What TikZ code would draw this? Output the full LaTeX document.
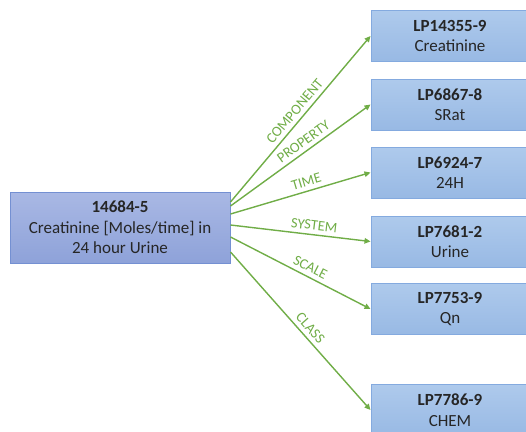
\documentclass[tikz,border=0pt]{standalone}
\usepackage{fontspec}
\setmainfont{Carlito}
\usetikzlibrary{arrows.meta}
\definecolor{srctop}{HTML}{A9B8E4}
\definecolor{srcbot}{HTML}{8EA2D9}
\definecolor{srcedge}{HTML}{7490D2}
\definecolor{parttop}{HTML}{AECAEC}
\definecolor{partbot}{HTML}{98B9E4}
\definecolor{partedge}{HTML}{84AADF}
\definecolor{linkgreen}{HTML}{70AD47}
\definecolor{textgray}{HTML}{262626}
\tikzset{
  srcbox/.style={rectangle,draw=srcedge,line width=1pt,top color=srctop,bottom color=srcbot,
                 minimum width=220pt,minimum height=71pt,align=center,text=textgray,
                 font=\fontsize{17}{20.5}\selectfont},
  partbox/.style={rectangle,draw=partedge,line width=1pt,top color=parttop,bottom color=partbot,
                  minimum width=158pt,minimum height=51pt,align=center,text=textgray,
                  font=\fontsize{17}{20.5}\selectfont},
  % the connectors carry the name of the LOINC axis
  link/.style={draw=linkgreen,line width=1.4pt,-{Triangle[length=6pt,width=5.5pt]}},
  axis/.style={sloped,above=2pt,inner sep=2pt,text=linkgreen,font=\fontsize{14.5}{16}\selectfont},
}

\begin{document}
\begin{tikzpicture}[x=1pt,y=-1pt]
  \useasboundingbox (0,0) rectangle (526,431);
  % the term
  \node[srcbox] (src) at (120,227.5) {\textbf{14684-5}\\Creatinine [Moles/time] in\\24 hour Urine};
  % its parts, top to bottom
  \foreach \i/\y/\code/\name in {1/36/LP14355-9/Creatinine,2/104.5/LP6867-8/SRat,3/172.5/LP6924-7/24H,
                                 4/241.5/LP7681-2/Urine,5/309/LP7753-9/Qn,6/410/LP7786-9/CHEM}
    \node[partbox] (p\i) at (450,\y) {\textbf{\code}\\\name};
  % start points on the right side of the term
  \foreach \i/\dy in {1/25.5,2/21.5,3/13.5,4/2.5,5/-9.5,6/-24.5}
    \coordinate (s\i) at ([yshift=\dy pt]src.east);
  \foreach \i/\lab/\p in {1/COMPONENT/0.51,2/PROPERTY/0.56,3/TIME/0.56,4/SYSTEM/0.59,5/SCALE/0.54,6/CLASS/0.52}
    \draw[link] (s\i) -- node[axis,pos=\p] {\lab} (p\i.west);
\end{tikzpicture}
\end{document}
